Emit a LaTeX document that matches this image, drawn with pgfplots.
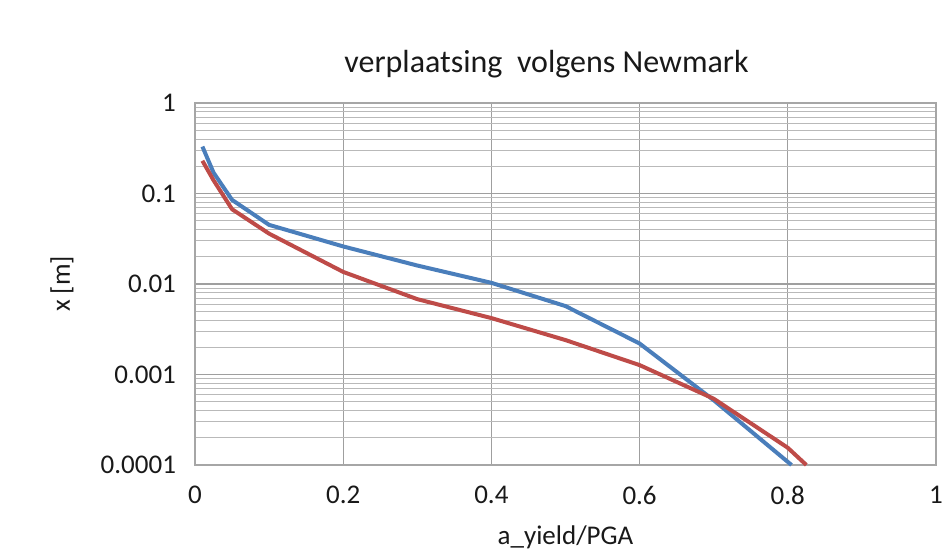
\documentclass[border=0pt]{standalone}
\usepackage{pgfplots}
\pgfplotsset{compat=1.18}
\usepackage{fontspec}
\setmainfont{Carlito}
\definecolor{exblue}{HTML}{4A7EBB}
\definecolor{exred}{HTML}{BE4B48}
\begin{document}
\begin{tikzpicture}
\path[use as bounding box] (-97.5pt,-45pt) rectangle (374.5pt,232.5pt);
\begin{axis}[
  at={(0,0)}, anchor=south west,
  scale only axis, width=370.5pt, height=181pt,
  xmin=0, xmax=1, ymode=log, ymin=1e-4, ymax=1,
  xtick={0,0.2,0.4,0.6,0.8,1},
  xticklabels={0,0.2,0.4,0.6,0.8,1},
  ytick={1e-4,1e-3,1e-2,1e-1,1},
  yticklabels={0.0001,0.001,0.01,0.1,1},
  minor ytick={2e-4,3e-4,4e-4,5e-4,6e-4,7e-4,8e-4,9e-4,2e-3,3e-3,4e-3,5e-3,6e-3,7e-3,8e-3,9e-3,2e-2,3e-2,4e-2,5e-2,6e-2,7e-2,8e-2,9e-2,2e-1,3e-1,4e-1,5e-1,6e-1,7e-1,8e-1,9e-1},
  grid=both,
  major grid style={gray!75, line width=0.6pt},
  minor grid style={gray!55, line width=0.5pt},
  axis line style={gray!70, line width=0.6pt},
  tick style={draw=none},
  ticklabel style={font=\fontsize{13.5}{15}\selectfont, text=black!90},
  xticklabel style={yshift=-7pt},
  yticklabel style={xshift=-6pt},
  title={verplaatsing\ \ volgens Newmark},
  title style={font=\fontsize{16}{18}\selectfont, text=black!90, at={(axis description cs:0.5,1)}, anchor=center, yshift=13.5pt, xshift=-9.5pt},
  xlabel={a\_yield/PGA},
  ylabel={x [m]},
  xlabel style={font=\fontsize{13.5}{15}\selectfont, text=black!90, at={(axis description cs:0.5,0)}, anchor=center, yshift=-36pt},
  ylabel style={font=\fontsize{13.5}{15}\selectfont, text=black!90, at={(axis description cs:0,0.5)}, anchor=center, yshift=66.5pt},
  clip=false,
]
\addplot[exblue, line width=2pt, line join=round] coordinates {
(0.01,0.33) (0.025,0.17) (0.05,0.085) (0.1,0.045) (0.2,0.026) (0.3,0.016)
(0.4,0.0103) (0.5,0.0057) (0.6,0.0022) (0.7,0.00052) (0.805,0.0001)};
\addplot[exred, line width=2pt, line join=round] coordinates {
(0.01,0.23) (0.025,0.14) (0.05,0.067) (0.1,0.036) (0.2,0.0136) (0.3,0.0068)
(0.4,0.0042) (0.5,0.0024) (0.6,0.00127) (0.7,0.00054) (0.8,0.000155) (0.825,0.0001)};
\end{axis}
\end{tikzpicture}
\end{document}
